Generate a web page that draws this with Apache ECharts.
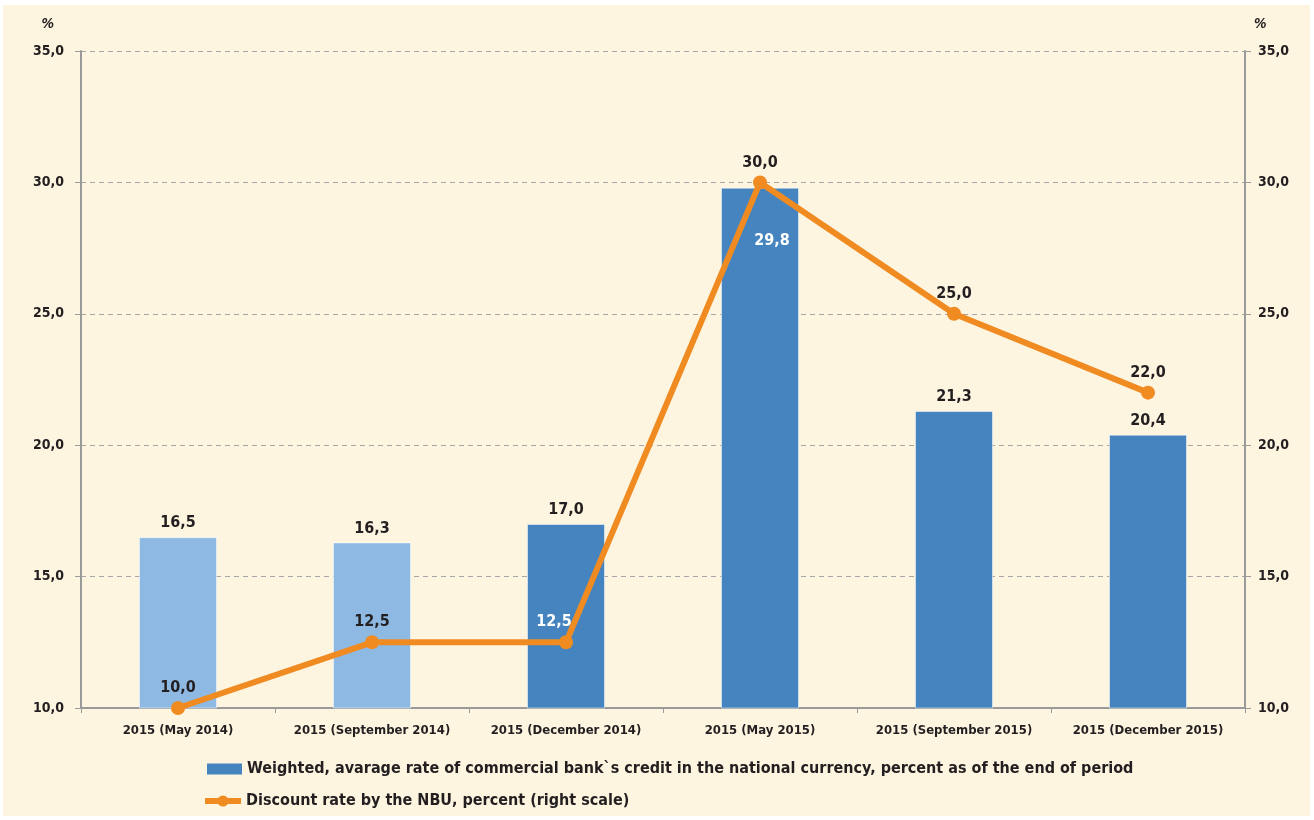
<!DOCTYPE html>
<html>
<head>
<meta charset="utf-8">
<script src="https://cdn.jsdelivr.net/npm/echarts@6/dist/echarts.min.js"></script>
<style>
html,body{margin:0;padding:0;background:#ffffff;}
#bg{position:absolute;left:3px;top:5px;width:1307px;height:811px;background:#FEF5E1;}
#chart{position:absolute;left:0;top:0;width:1314px;height:820px;}
</style>
</head>
<body>
<div id="bg"></div>
<div id="chart"></div>
<script>
const categories = ['2015 (May 2014)', '2015 (September 2014)', '2015 (December 2014)', '2015 (May 2015)', '2015 (September 2015)', '2015 (December 2015)'];
const creditRate = [16.5, 16.3, 17.0, 29.8, 21.3, 20.4];
const discountRate = [10.0, 12.5, 12.5, 30.0, 25.0, 22.0];
const barColors = ['#8DB9E3', '#8DB9E3', '#4584BE', '#4584BE', '#4584BE', '#4584BE'];
const yTicks = [10, 15, 20, 25, 30, 35];
const seriesNames = ['Weighted, avarage rate of commercial bank`s credit in the national currency, percent as of the end of period', 'Discount rate by the NBU, percent (right scale)'];

const FONT = '"Liberation Sans Narrow", "DejaVu Sans Condensed", "Liberation Sans", sans-serif';
const TXT = '#231F20';
const ORANGE = '#F08B22';
const fmt = v => Number(v).toFixed(1).replace('.', ',');

const chart = echarts.init(document.getElementById('chart'));
const yMin = yTicks[0], yMax = yTicks[yTicks.length - 1], yStep = yTicks[1] - yTicks[0];

const axisCommon = {
  type: 'value', min: yMin, max: yMax, interval: yStep,
  axisLine: { show: true, lineStyle: { color: '#9A9A9A', width: 2 } },
  axisTick: { show: true, length: 6, lineStyle: { color: '#9A9A9A', width: 1 } },
  nameLocation: 'end', name: '%', nameGap: 20
};
const legendText = { fontFamily: FONT, fontSize: 16, fontWeight: 'bold', color: TXT };

chart.setOption({
  backgroundColor: 'transparent',
  textStyle: { fontFamily: FONT },
  grid: { left: 81, right: 69, top: 51, bottom: 112, containLabel: false },
  legend: [
    {
      left: 202, top: 756, itemWidth: 35, itemHeight: 11, itemGap: 4,
      data: [{ name: seriesNames[0], icon: 'rect', itemStyle: { color: '#4584BE' } }],
      textStyle: legendText
    },
    {
      left: 197, top: 788, itemWidth: 36, itemHeight: 14, itemGap: 4,
      data: [{ name: seriesNames[1], lineStyle: { width: 6, color: ORANGE }, itemStyle: { color: ORANGE } }],
      textStyle: legendText
    }
  ],
  xAxis: {
    type: 'category', data: categories,
    axisLine: { lineStyle: { color: '#9A9A9A', width: 2 } },
    axisTick: { show: true, length: 5, lineStyle: { color: '#9A9A9A' } },
    axisLabel: { interval: 0, fontFamily: FONT, fontSize: 13, fontWeight: 'bold', color: TXT, margin: 16 }
  },
  yAxis: [
    Object.assign({}, axisCommon, {
      position: 'left',
      splitLine: { show: true, lineStyle: { color: '#A6A6A6', type: [5, 4], width: 1 } },
      axisLabel: { fontFamily: FONT, fontSize: 14, fontWeight: 'bold', color: TXT, margin: 17, formatter: fmt },
      nameTextStyle: { fontFamily: FONT, fontSize: 14, fontWeight: 'bold', fontStyle: 'italic', color: TXT, align: 'right', padding: [0, 27, 0, 0] }
    }),
    Object.assign({}, axisCommon, {
      position: 'right',
      splitLine: { show: false },
      axisLabel: { fontFamily: FONT, fontSize: 14, fontWeight: 'bold', color: TXT, margin: 13, formatter: fmt },
      nameTextStyle: { fontFamily: FONT, fontSize: 14, fontWeight: 'bold', fontStyle: 'italic', color: TXT, align: 'left', padding: [0, 0, 0, 9] }
    })
  ],
  series: [
    {
      name: seriesNames[0], type: 'bar', yAxisIndex: 0, barWidth: 78,
      data: creditRate.map((v, i) => {
        const d = { value: v, itemStyle: { color: barColors[i], borderColor: 'rgba(255,255,255,0.5)', borderWidth: 1 } };
        if (i === 3) d.label = { position: 'insideTop', distance: 45, offset: [12, 0], color: '#FFFFFF' };
        return d;
      }),
      label: { show: true, position: 'top', distance: 6, formatter: p => fmt(p.value), fontFamily: FONT, fontSize: 16, fontWeight: 'bold', color: TXT }
    },
    {
      name: seriesNames[1], type: 'line', yAxisIndex: 1,
      data: discountRate.map((v, i) => {
        const d = { value: v };
        if (i === 2) d.label = { color: '#FFFFFF', offset: [-12, 0] };
        return d;
      }),
      symbol: 'circle', symbolSize: 14,
      lineStyle: { color: ORANGE, width: 6 },
      itemStyle: { color: ORANGE },
      z: 5,
      label: { show: true, position: 'top', distance: 5, formatter: p => fmt(p.value), fontFamily: FONT, fontSize: 16, fontWeight: 'bold', color: TXT }
    }
  ]
});
</script>
</body>
</html>
